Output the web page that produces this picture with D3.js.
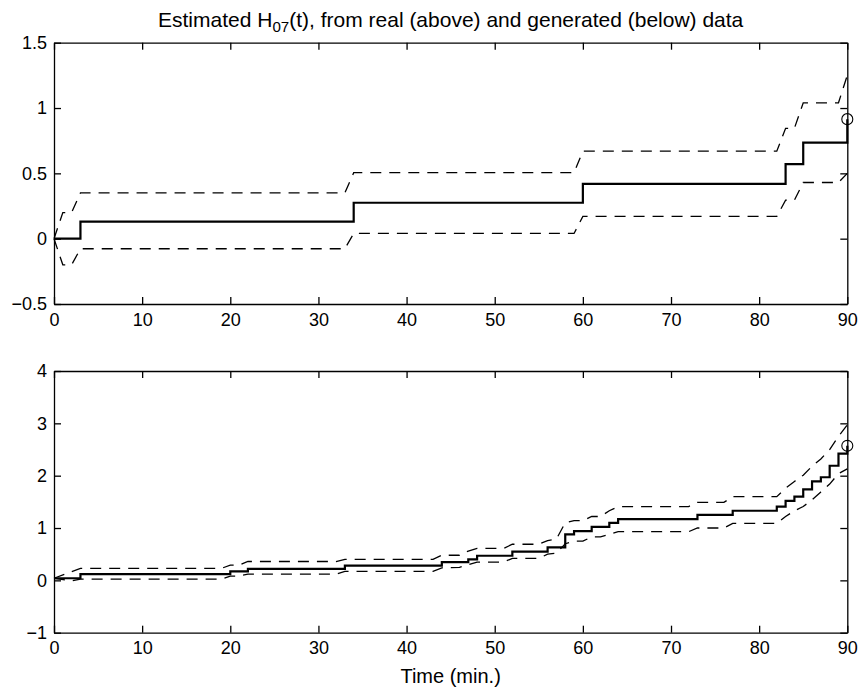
<!DOCTYPE html>
<html>
<head>
<meta charset="utf-8">
<script src="https://cdn.jsdelivr.net/npm/d3@7"></script>
<style>
  html, body { margin: 0; padding: 0; background: #fff; }
  svg { display: block; font-family: "Liberation Sans", Arial, Helvetica, sans-serif; }
</style>
</head>
<body>
<svg id="chart" width="859" height="688"></svg>
<script>
// ---- axis ticks ----
const xTicks = [0, 10, 20, 30, 40, 50, 60, 70, 80, 90];
const xTickLabels = ["0", "10", "20", "30", "40", "50", "60", "70", "80", "90"];
const topYTicks = [-0.5, 0, 0.5, 1, 1.5];
const topYTickLabels = ["\u22120.5", "0", "0.5", "1", "1.5"];
const botYTicks = [-1, 0, 1, 2, 3, 4];
const botYTickLabels = ["\u22121", "0", "1", "2", "3", "4"];

// ---- real data: step estimate and its confidence band ----
const realStepTime = [0, 3, 34, 60, 83, 85, 90];
const realStepH    = [0, 0.13, 0.275, 0.42, 0.57, 0.735, 0.915];
const realUpperTime = [0, 1, 2, 3, 33, 34, 59, 60, 82, 83, 84, 85, 89, 90];
const realUpperH    = [0, 0.2, 0.2, 0.35, 0.35, 0.505, 0.505, 0.67, 0.67, 0.845, 0.845, 1.04, 1.04, 1.25];
const realLowerTime = [0, 1, 2, 3, 33, 34, 59, 60, 82, 83, 84, 85, 89, 90];
const realLowerH    = [0, -0.2, -0.2, -0.077, -0.077, 0.04, 0.04, 0.17, 0.17, 0.295, 0.295, 0.43, 0.43, 0.5];
const realEndTime = 90;
const realEndH = 0.915;

// ---- generated data: step estimate and its confidence band ----
const genStepTime = [0, 3, 20, 22, 33, 44, 47, 48, 52, 56, 58, 59, 61, 63, 64, 73, 77, 82, 83, 84, 85, 86, 87, 88, 89, 90];
const genStepH    = [0.04, 0.12, 0.17, 0.22, 0.28, 0.35, 0.40, 0.47, 0.55, 0.63, 0.88, 0.94, 1.02, 1.10, 1.17, 1.25, 1.33, 1.41, 1.52, 1.60, 1.74, 1.89, 1.97, 2.19, 2.42, 2.57];
const genUpperTime = [0, 3, 19, 20, 21, 22, 32, 33, 43, 44, 46, 47, 48, 51, 52, 55, 56, 57, 58, 59, 60, 61, 62, 63, 64, 72, 73, 76, 77, 82, 83, 84, 85, 86, 87, 88, 89, 90];
const genUpperH    = [0.04, 0.23, 0.23, 0.29, 0.29, 0.36, 0.36, 0.40, 0.40, 0.48, 0.48, 0.56, 0.61, 0.61, 0.69, 0.69, 0.76, 0.79, 1.10, 1.14, 1.14, 1.22, 1.22, 1.33, 1.41, 1.41, 1.49, 1.49, 1.60, 1.60, 1.76, 1.89, 2.01, 2.18, 2.32, 2.50, 2.75, 2.97];
const genLowerTime = [0, 2, 3, 19, 20, 21, 22, 32, 33, 43, 44, 46, 47, 48, 51, 52, 55, 56, 57, 58, 59, 60, 61, 62, 63, 64, 72, 73, 76, 77, 82, 83, 84, 85, 86, 87, 88, 89, 90];
const genLowerH    = [0.04, -0.01, 0.025, 0.025, 0.08, 0.08, 0.12, 0.12, 0.17, 0.17, 0.24, 0.25, 0.30, 0.35, 0.35, 0.42, 0.42, 0.50, 0.52, 0.70, 0.75, 0.75, 0.83, 0.83, 0.88, 0.93, 0.93, 1.00, 1.00, 1.09, 1.09, 1.22, 1.33, 1.41, 1.54, 1.69, 1.84, 2.04, 2.13];
const genEndTime = 90;
const genEndH = 2.57;

const titleMain = "Estimated H";
const titleSub = "07";
const titleRest = "(t), from real (above) and generated (below) data";
const xLabel = "Time (min.)";

const svg = d3.select("#chart");
const left = 54, right = 847.3;
const panels = [
  { top: 42.7, bottom: 304, yDomain: [-0.5, 1.5], yTicks: topYTicks, yLabels: topYTickLabels,
    stepT: realStepTime, stepH: realStepH, upT: realUpperTime, upH: realUpperH,
    loT: realLowerTime, loH: realLowerH, endT: realEndTime, endH: realEndH },
  { top: 371, bottom: 632.7, yDomain: [-1, 4], yTicks: botYTicks, yLabels: botYTickLabels,
    stepT: genStepTime, stepH: genStepH, upT: genUpperTime, upH: genUpperH,
    loT: genLowerTime, loH: genLowerH, endT: genEndTime, endH: genEndH }
];

const x = d3.scaleLinear().domain([0, 90]).range([left, right]);
const tickLen = 7;
const fontSize = 18;
const labelSize = 20;
const titleSize = 21;

panels.forEach(p => {
  const y = d3.scaleLinear().domain(p.yDomain).range([p.bottom, p.top]);
  const g = svg.append("g");

  const zipT = (ts, hs) => ts.map((t, i) => [t, hs[i]]);
  const stepLine = d3.line().x(d => x(d[0])).y(d => y(d[1])).curve(d3.curveStepAfter);
  const straight = d3.line().x(d => x(d[0])).y(d => y(d[1]));

  // confidence band (dashed)
  [zipT(p.upT, p.upH), zipT(p.loT, p.loH)].forEach(band => {
    g.append("path").attr("d", straight(band))
      .attr("fill", "none").attr("stroke", "#000")
      .attr("stroke-width", 1.3).attr("stroke-dasharray", "11,8");
  });

  // step estimate
  g.append("path").attr("d", stepLine(zipT(p.stepT, p.stepH)))
    .attr("fill", "none").attr("stroke", "#000").attr("stroke-width", 2.2)
    .attr("stroke-linejoin", "miter");

  // end marker
  g.append("circle").attr("cx", x(p.endT)).attr("cy", y(p.endH)).attr("r", 5.5)
    .attr("fill", "none").attr("stroke", "#000").attr("stroke-width", 1.1);

  // axes box with inward ticks
  const styleAxis = sel => {
    sel.select(".domain").attr("stroke-width", 1.3);
    sel.selectAll(".tick line").attr("stroke-width", 1.3);
    sel.selectAll("text").attr("font-size", fontSize)
      .attr("font-family", "'Liberation Sans', Arial, Helvetica, sans-serif").attr("fill", "#000");
  };
  g.append("g").attr("transform", `translate(0,${p.bottom})`)
    .call(d3.axisBottom(x).tickValues(xTicks).tickFormat((d, i) => xTickLabels[i])
      .tickSizeInner(-tickLen).tickSizeOuter(0).tickPadding(9))
    .call(styleAxis);
  g.append("g").attr("transform", `translate(0,${p.top})`)
    .call(d3.axisTop(x).tickValues(xTicks).tickFormat("")
      .tickSizeInner(-tickLen).tickSizeOuter(0))
    .call(styleAxis);
  g.append("g").attr("transform", `translate(${left},0)`)
    .call(d3.axisLeft(y).tickValues(p.yTicks).tickFormat((d, i) => p.yLabels[i])
      .tickSizeInner(-tickLen).tickSizeOuter(0).tickPadding(7))
    .call(styleAxis);
  g.append("g").attr("transform", `translate(${right},0)`)
    .call(d3.axisRight(y).tickValues(p.yTicks).tickFormat("")
      .tickSizeInner(-tickLen).tickSizeOuter(0))
    .call(styleAxis);
});

// title with subscript
const title = svg.append("text")
  .attr("x", (left + right) / 2).attr("y", 27)
  .attr("text-anchor", "middle").attr("font-size", titleSize).attr("fill", "#000");
title.append("tspan").text(titleMain);
title.append("tspan").attr("font-size", titleSize * 0.72).attr("dy", 5).text(titleSub);
title.append("tspan").attr("dy", -5).text(titleRest);

svg.append("text")
  .attr("x", (left + right) / 2).attr("y", 683)
  .attr("text-anchor", "middle").attr("font-size", labelSize).attr("fill", "#000")
  .text(xLabel);
</script>
</body>
</html>
